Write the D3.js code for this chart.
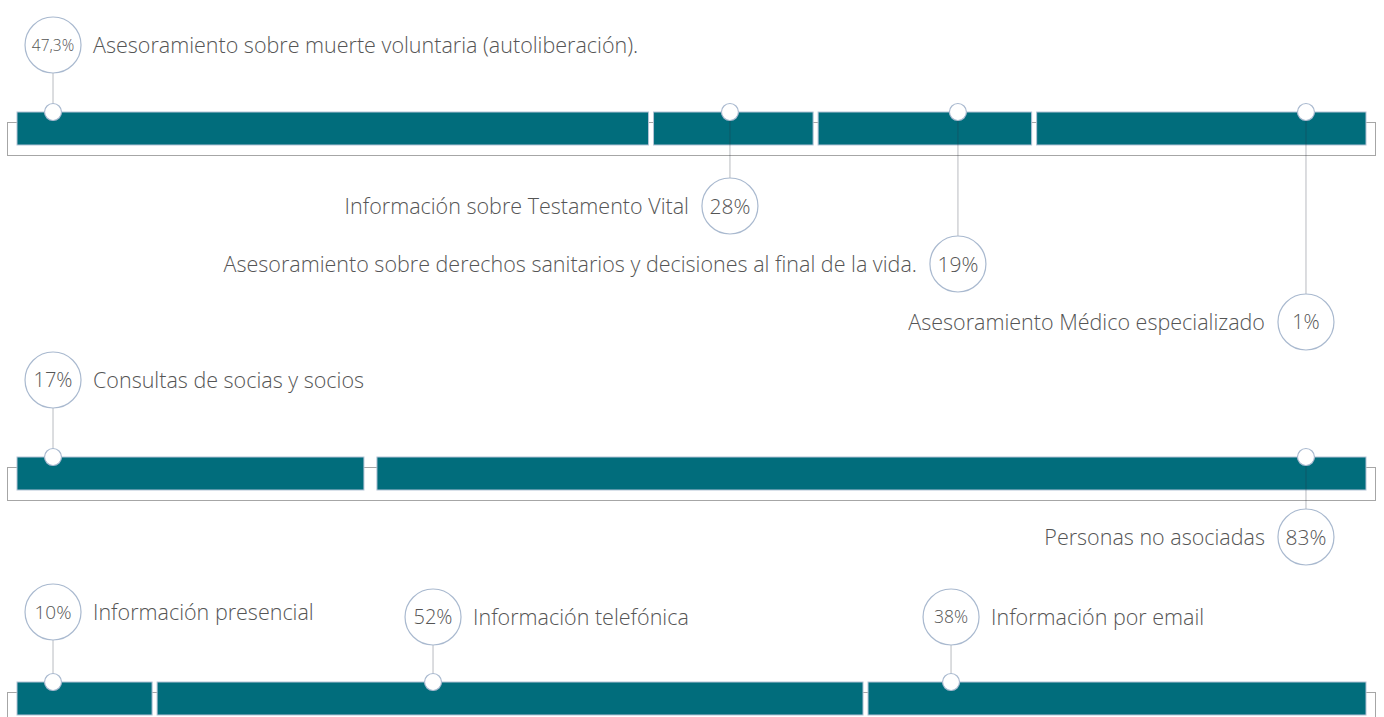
<!DOCTYPE html>
<html>
<head>
<meta charset="utf-8">
<script src="https://cdn.jsdelivr.net/npm/d3@7"></script>
<style>
  body { margin: 0; background: #fff; }
  svg text { font-family: "Open Sans", "Noto Sans", sans-serif; font-weight: 300; fill: #555; }
</style>
</head>
<body>
<div id="chart"></div>
<script>
// data
var rowShares = [
    [47.0, 12.2, 16.2, 24.6],
    [26.2, 73.8],
    [10.2, 52.7, 37.1]
];
var labelRow = [0, 0, 0, 0, 1, 1, 2, 2, 2];
var labelText = [
    "Asesoramiento sobre muerte voluntaria (autoliberación).",
    "Información sobre Testamento Vital",
    "Asesoramiento sobre derechos sanitarios y decisiones al final de la vida.",
    "Asesoramiento Médico especializado",
    "Consultas de socias y socios",
    "Personas no asociadas",
    "Información presencial",
    "Información telefónica",
    "Información por email"
];
var labelValue = ["47,3%", "28%", "19%", "1%", "17%", "83%", "10%", "52%", "38%"];
var markerAt = [2.67, 52.85, 69.75, 95.55, 2.67, 95.55, 2.67, 30.84, 69.24];

// layout
var rowTop = [112, 457, 682];
var rowGap = [5, 13, 5];
var labelDy = [-67, 94, 152, 210, -77, 80, -70, -65, -65];
var valueSize = [15.5, 21, 21, 20, 20, 21, 19, 20, 17.5];

var width = 1384, height = 717, barH = 33, R = 28;

var svg = d3.select("#chart").append("svg")
    .attr("width", width)
    .attr("height", height);

var x = d3.scaleLinear().domain([0, 100]).range([17, 1366]);

for (let r in rowShares) {
    let top = rowTop[r];
    // bracket behind the bar
    svg.append("rect")
        .attr("x", 7.5).attr("y", top + 10.5)
        .attr("width", 1368).attr("height", 33)
        .attr("fill", "none")
        .attr("stroke", "#a6a6a6");
    let segs = [], acc = 0;
    for (let s of rowShares[r]) {
        segs.push({ x0: acc, x1: acc + s });
        acc += s;
    }
    let g = rowGap[r] / 2;
    svg.append("g").selectAll("rect")
        .data(segs).enter().append("rect")
        .attr("x", function (d, i) { return x(d.x0) + (i > 0 ? g : 0); })
        .attr("y", top)
        .attr("width", function (d, i) {
            return x(d.x1) - x(d.x0) - (i > 0 ? g : 0) - (i < segs.length - 1 ? g : 0);
        })
        .attr("height", barH)
        .attr("fill", "#016d7c")
        .attr("stroke", "#b3c3d6")
        .attr("stroke-width", 1);
}

for (let i in labelText) {
    let top = rowTop[labelRow[i]];
    let mx = x(markerAt[i]);
    let cy = top + labelDy[i];
    let below = labelDy[i] > 0;
    svg.append("line")
        .attr("x1", mx).attr("x2", mx)
        .attr("y1", top).attr("y2", below ? cy - R : cy + R)
        .attr("stroke", "#2b3440")
        .attr("stroke-opacity", 0.28)
        .attr("stroke-width", 1.2);
    svg.append("circle")
        .attr("cx", mx).attr("cy", top).attr("r", 8.5)
        .attr("fill", "#fff")
        .attr("stroke", "#a9b9cf")
        .attr("stroke-width", 1.2);
    svg.append("circle")
        .attr("cx", mx).attr("cy", cy).attr("r", R)
        .attr("fill", "#fff")
        .attr("stroke", "#a9b9cf")
        .attr("stroke-width", 1.2);
    svg.append("text")
        .attr("x", mx).attr("y", cy)
        .attr("dy", "0.36em")
        .attr("text-anchor", "middle")
        .attr("font-size", valueSize[i])
        .text(labelValue[i]);
    svg.append("text")
        .attr("x", below ? mx - R - 13 : mx + R + 12)
        .attr("y", cy + 1)
        .attr("dy", "0.33em")
        .attr("text-anchor", below ? "end" : "start")
        .attr("font-size", 21.5)
        .text(labelText[i]);
}
</script>
</body>
</html>
